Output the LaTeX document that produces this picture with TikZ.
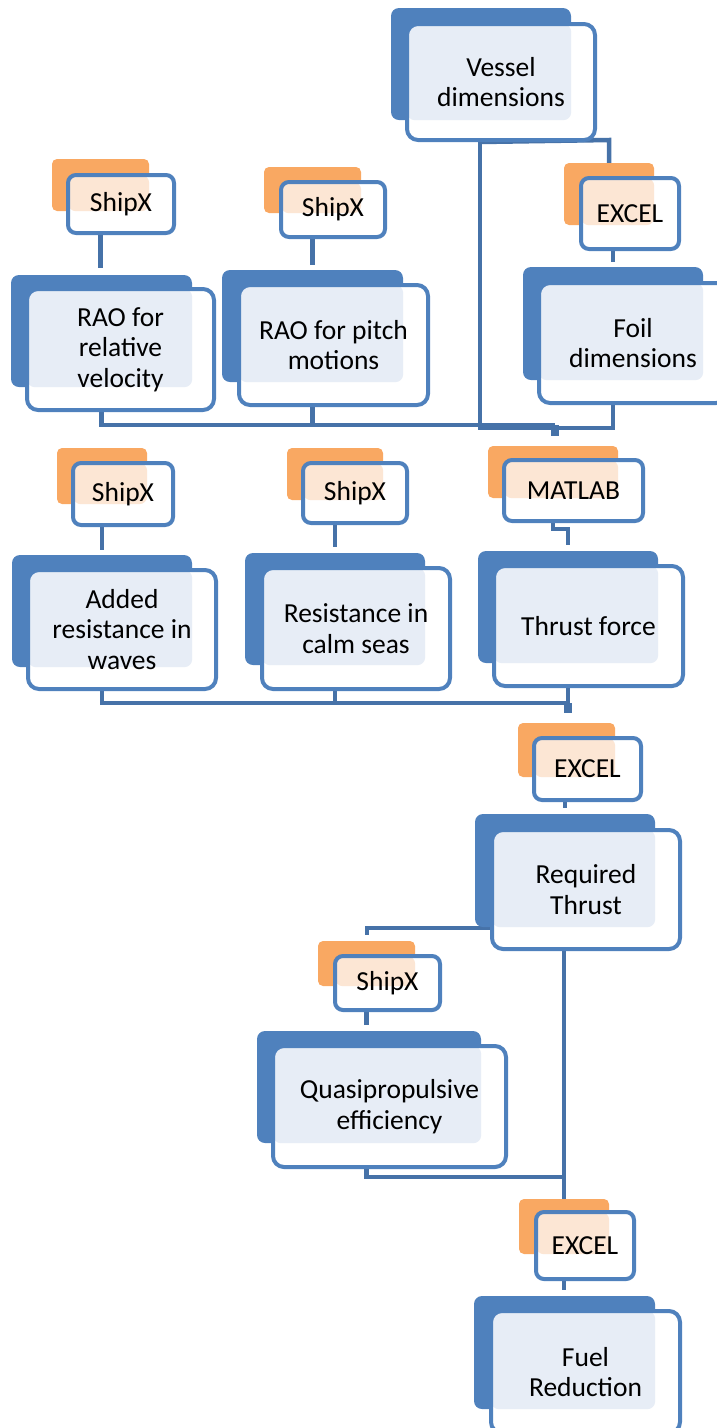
\documentclass[tikz,border=0pt]{standalone}
\usepackage{fontspec}
\setmainfont{Carlito}
\usetikzlibrary{backgrounds}
\definecolor{boxblue}{RGB}{79,129,189}
\definecolor{linecol}{RGB}{70,114,168}
\definecolor{tagorange}{RGB}{249,168,98}
\definecolor{tintblue}{RGB}{231,237,246}
\definecolor{tintorange}{RGB}{252,230,212}
\newcommand\mainfs{\fontsize{27.5pt}{30.5pt}\selectfont}
\tikzset{
  backbox/.style={fill=boxblue, rounded corners=8pt, inner sep=0pt, minimum width=180pt, minimum height=112pt},
  frontbox/.style={draw=boxblue, line width=4pt, fill=white, rounded corners=11pt, inner sep=0pt,
    minimum width=188pt, minimum height=120pt, align=center, font=\mainfs,
    path picture={\fill[tintblue, rounded corners=8pt] (path picture bounding box.north west) rectangle (#1.south east);}},
  orangetag/.style={fill=tagorange, rounded corners=5pt, inner sep=0pt},
  whitetag/.style={draw=boxblue, line width=4pt, fill=white, rounded corners=8pt, inner sep=0pt, font=\mainfs,
    path picture={\fill[tintorange] (path picture bounding box.north west) rectangle (#1.south east);}},
  conn/.style={draw=linecol, line width=4.5pt},
  stub/.style={draw=linecol, line width=8pt}
}
\begin{document}
\begin{tikzpicture}[x=1pt,y=-1pt]
\clip (0,0) rectangle (717,1428);

% Vessel dimensions
\node[backbox] (vesselB) at (481,64) {};
\node[frontbox=vesselB, minimum height=116pt] (vessel) at (501,82) {Vessel\\dimensions};

% Row 1
\node[orangetag, minimum width=97pt, minimum height=52pt] (raorelO) at (100.5,185) {};
\node[whitetag=raorelO, minimum width=106pt, minimum height=58pt] (raorelT) at (121,204) {ShipX};
\node[backbox, minimum width=181pt] (raorelB) at (101.5,331) {};
\node[frontbox=raorelB, minimum width=187pt, minimum height=121pt] (raorel) at (120.5,349.5) {RAO for\\relative\\velocity};

\node[orangetag, minimum width=97pt, minimum height=46pt] (raopitchO) at (312.5,190) {};
\node[whitetag=raopitchO, minimum width=104pt, minimum height=55pt] (raopitchT) at (333,209.5) {ShipX};
\node[backbox, minimum width=181pt] (raopitchB) at (312.5,326) {};
\node[frontbox=raopitchB, minimum width=189pt] (raopitch) at (333.5,345) {RAO for pitch\\motions};

\node[orangetag, minimum width=90pt, minimum height=62pt] (foilO) at (609,194) {};
\node[whitetag=foilO, minimum width=98pt, minimum height=71pt] (foilT) at (630,213.5) {EXCEL};
\node[backbox, minimum height=113pt] (foilB) at (613,323.5) {};
\node[frontbox=foilB] (foil) at (633,343) {Foil\\dimensions};

% Row 2
\node[orangetag, minimum width=90pt, minimum height=56pt] (addedO) at (102,476) {};
\node[whitetag=addedO, minimum width=100pt, minimum height=62pt] (addedT) at (123,494) {ShipX};
\node[backbox] (addedB) at (102,611) {};
\node[frontbox=addedB, minimum height=119pt] (added) at (122,629.5) {Added\\resistance in\\waves};

\node[orangetag, minimum width=96pt, minimum height=52pt] (calmO) at (335,474) {};
\node[whitetag=calmO, minimum width=104pt, minimum height=60pt] (calmT) at (355,493) {ShipX};
\node[backbox] (calmB) at (335,609) {};
\node[frontbox=calmB, minimum height=121pt] (calm) at (356,628.5) {Resistance in\\calm seas};

\node[orangetag, minimum width=130pt, minimum height=52pt] (matlabO) at (553,472) {};
\node[whitetag=matlabO, minimum width=139pt, minimum height=61pt] (matlabT) at (573.5,490.5) {MATLAB};
\node[backbox] (thrustB) at (568,607) {};
\node[frontbox=thrustB, minimum width=189pt] (thrust) at (588.5,626) {Thrust force};

% Required thrust
\node[orangetag, minimum width=97pt, minimum height=54pt] (reqO) at (566.5,750) {};
\node[whitetag=reqO, minimum width=107pt, minimum height=62pt] (reqT) at (587.5,769) {EXCEL};
\node[backbox, minimum height=113pt] (reqB) at (565,870.5) {};
\node[frontbox=reqB, minimum height=119pt] (required) at (586,889.5) {Required\\Thrust};

% Quasipropulsive
\node[orangetag, minimum width=97pt, minimum height=45pt] (quasiO) at (366.5,963.5) {};
\node[whitetag=quasiO, minimum width=105pt, minimum height=54pt] (quasiT) at (387.5,983) {ShipX};
\node[backbox, minimum width=224pt] (quasiB) at (369,1087) {};
\node[frontbox=quasiB, minimum width=233pt, minimum height=121pt] (quasi) at (389.5,1106.5) {Quasipropulsive\\efficiency};

% Fuel reduction
\node[orangetag, minimum width=90pt, minimum height=55pt] (fuelO) at (564,1226.5) {};
\node[whitetag=fuelO, minimum width=98pt, minimum height=67pt] (fuelT) at (585,1245.5) {EXCEL};
\node[backbox, minimum width=181pt, minimum height=113pt] (fuelB) at (564.5,1352.5) {};
\node[frontbox=fuelB, minimum width=189pt, minimum height=122pt] (fuel) at (585.5,1372) {Fuel\\Reduction};

% Connectors
\begin{scope}[on background layer]
\coordinate (jv) at (480,428);
\coordinate (jf) at (613,428);
\coordinate (jv2) at (609,140);
\draw[conn] (vessel.south -| jv) -- (jv) -- (jf) -- (foil.south -| jf);
\draw[conn] (vessel.south -| jv) -- (jv2) -- (foilO.north);

\draw[conn] (raorelT.south -| raorelO) -- ([yshift=7pt]raorelB.north -| raorelO);
\draw[conn] (raopitchT.south -| raopitchO) -- ([yshift=5pt]raopitchB.north -| raopitchO);
\draw[conn] (foilT.south -| foilB) -- ([yshift=5pt]foilB.north);
\draw[conn] (addedT.south -| addedO) -- ([yshift=5pt]addedB.north -| addedO);
\draw[conn] (calmT.south -| calmO) -- ([yshift=6pt]calmB.north -| calmO);
\coordinate (mj) at (568,529);
\draw[conn] (matlabO |- matlabT.south) -- (matlabO |- mj) -- (mj) -- ([yshift=6pt]thrustB.north);

\coordinate (b1) at (555,425);
\draw[conn] (raorel.south -| raorelB) -- (raorelB |- b1) -- (b1);
\draw[conn] (raopitch.south -| raopitchB) -- (raopitchB |- b1);
\draw[stub] (b1) -- ([yshift=-11pt]b1);

\coordinate (b2) at (568,703);
\draw[conn] (added.south -| addedB) -- (addedB |- b2) -- (b2);
\draw[conn] (calm.south -| calmB) -- (calmB |- b2);
\draw[conn] (thrust.south -| thrustB) -- (b2);
\draw[stub] (b2) -- ([yshift=-10pt]b2);

\draw[conn] (reqT.south -| reqB) -- ([yshift=6pt]reqB.north);
\coordinate (q1) at (367,928);
\draw[conn] (required.west |- q1) -- (q1) -- ([yshift=-7pt]q1);
\draw[conn] (quasiT.south -| quasiO) -- ([yshift=6pt]quasiB.north -| quasiO);
\draw[conn] (fuelO.north |- required.south) -- (fuelO.north);
\coordinate (q2) at (564,1177);
\draw[conn] (quasi.south -| quasiO) -- (quasiO |- q2) -- (q2);
\draw[conn] (fuelT.south -| fuelO) -- ([yshift=6pt]fuelB.north -| fuelO);
\end{scope}
\end{tikzpicture}
\end{document}
